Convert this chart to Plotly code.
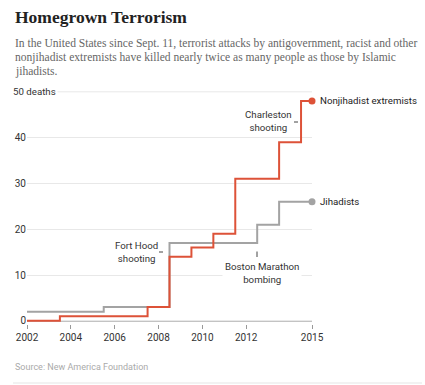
import plotly.graph_objects as go

# ---- data ----
nonjihadist_years = [2002, 2003.5, 2007.5, 2008.5, 2009.5, 2010.5, 2011.5, 2013.5, 2014.5, 2015]
nonjihadist_deaths = [0, 1, 3, 14, 16, 19, 31, 39, 48, 48]
jihadist_years = [2002, 2005.5, 2008.5, 2012.5, 2013.5, 2015]
jihadist_deaths = [2, 3, 17, 21, 26, 26]
x_tick_vals = [2002, 2004, 2006, 2008, 2010, 2012, 2015]
y_tick_vals = [0, 10, 20, 30, 40]

RED = "#dd5238"
GRAY = "#a3a3a3"
SANS = "Roboto, Liberation Sans, Arial, sans-serif"
SERIF = "Liberation Serif, Georgia, serif"
FS = 9.7

W, H = 425, 385
L, R, T, B = 27, 113, 90, 61
PW, PH = W - L - R, H - T - B


def px(x):
    return (x - L) / PW


def py(y):
    return (H - B - y) / PH


fig = go.Figure()
fig.add_trace(go.Scatter(x=jihadist_years, y=jihadist_deaths, mode="lines",
                         line=dict(color=GRAY, width=2, shape="hv"), hoverinfo="skip"))
fig.add_trace(go.Scatter(x=nonjihadist_years, y=nonjihadist_deaths, mode="lines",
                         line=dict(color=RED, width=2, shape="hv"), hoverinfo="skip"))
fig.add_trace(go.Scatter(x=[jihadist_years[-1]], y=[jihadist_deaths[-1]], mode="markers",
                         marker=dict(color=GRAY, size=7), hoverinfo="skip", cliponaxis=False))
fig.add_trace(go.Scatter(x=[nonjihadist_years[-1]], y=[nonjihadist_deaths[-1]], mode="markers",
                         marker=dict(color=RED, size=7), hoverinfo="skip", cliponaxis=False))

ann = []
# title / subtitle / source
ann.append(dict(text="<b>Homegrown Terrorism</b>", x=px(13), y=py(17), xref="paper", yref="paper",
                xanchor="left", yanchor="middle", showarrow=False,
                font=dict(family=SERIF, size=17.5, color="#222")))
sub_lines = ["In the United States since Sept. 11, terrorist attacks by antigovernment, racist and other",
             "nonjihadist extremists have killed nearly twice as many people as those by Islamic",
             "jihadists."]
for i, s in enumerate(sub_lines):
    ann.append(dict(text=s, x=px(13), y=py(43.5 + 14 * i), xref="paper", yref="paper",
                    xanchor="left", yanchor="middle", showarrow=False,
                    font=dict(family=SERIF, size=11.55, color="#666")))
ann.append(dict(text="Source: New America Foundation", x=px(13), y=py(367), xref="paper", yref="paper",
                xanchor="left", yanchor="middle", showarrow=False,
                font=dict(family=SANS, size=9, color="#aaa")))
# 50 deaths label
ann.append(dict(text="50 deaths", x=px(11), y=50, xref="paper", yref="y",
                xanchor="left", yanchor="middle", showarrow=False, bgcolor="white",
                font=dict(family=SANS, size=FS, color="#333")))
# series labels
ann.append(dict(text="Nonjihadist extremists", x=2015, y=48, xshift=6, xref="x", yref="y",
                xanchor="left", yanchor="middle", showarrow=False,
                font=dict(family=SANS, size=FS, color="#222")))
ann.append(dict(text="Jihadists", x=2015, y=26, xshift=6, xref="x", yref="y",
                xanchor="left", yanchor="middle", showarrow=False,
                font=dict(family=SANS, size=FS, color="#222")))
# event labels
ann.append(dict(text="Charleston<br>shooting", x=px(268), y=py(120.5), xref="paper", yref="paper",
                xanchor="center", yanchor="middle", showarrow=False, align="center",
                font=dict(family=SANS, size=FS, color="#333")))
ann.append(dict(text="Fort Hood<br>shooting", x=px(136), y=py(252), xref="paper", yref="paper",
                xanchor="center", yanchor="middle", showarrow=False, align="center",
                font=dict(family=SANS, size=FS, color="#333")))
ann.append(dict(text="Boston Marathon<br>bombing", x=px(262), y=py(273), xref="paper", yref="paper",
                xanchor="center", yanchor="middle", showarrow=False, align="center", bgcolor="white",
                borderpad=2,
                font=dict(family=SANS, size=FS, color="#333")))

shapes = [
    # baseline
    dict(type="line", xref="paper", yref="y", x0=0, x1=1, y0=0, y1=0,
         line=dict(color="#888", width=1.5), layer="below"),
    # event pointers
    dict(type="line", xref="paper", yref="paper", x0=px(294), x1=px(298), y0=py(122), y1=py(122),
         line=dict(color="#444", width=1)),
    dict(type="line", xref="paper", yref="paper", x0=px(159), x1=px(163), y0=py(252), y1=py(252),
         line=dict(color="#444", width=1)),
    dict(type="line", xref="paper", yref="paper", x0=px(257), x1=px(257), y0=py(251.5), y1=py(257),
         line=dict(color="#444", width=1)),
    # bottom rule
    dict(type="line", xref="paper", yref="paper", x0=px(13), x1=px(422), y0=py(383), y1=py(383),
         line=dict(color="#e5e5e5", width=1)),
]

fig.update_layout(
    width=W, height=H, margin=dict(l=L, r=R, t=T, b=B, autoexpand=False),
    plot_bgcolor="white", paper_bgcolor="white", showlegend=False,
    annotations=ann, shapes=shapes,
    xaxis=dict(range=[2002, 2015], tickvals=x_tick_vals, ticks="outside", ticklen=4,
               tickcolor="#999", tickwidth=1, showgrid=False, zeroline=False, showline=False,
               tickfont=dict(family=SANS, size=FS + 0.3, color="#333"), fixedrange=True),
    yaxis=dict(range=[-0.7, 50.4], tickvals=y_tick_vals, showgrid=True, gridcolor="#e8e8e8",
               gridwidth=1, zeroline=False, showline=False, ticks="",
               tickfont=dict(family=SANS, size=FS + 0.3, color="#333"), fixedrange=True),
)
# gridline at 50 (no tick label; labelled via annotation)
fig.add_shape(type="line", xref="paper", yref="y", x0=0, x1=1, y0=50, y1=50,
              line=dict(color="#e8e8e8", width=1), layer="below")

fig.write_html("out.html", config={"staticPlot": True},
               post_script="document.body.style.margin='0';")
